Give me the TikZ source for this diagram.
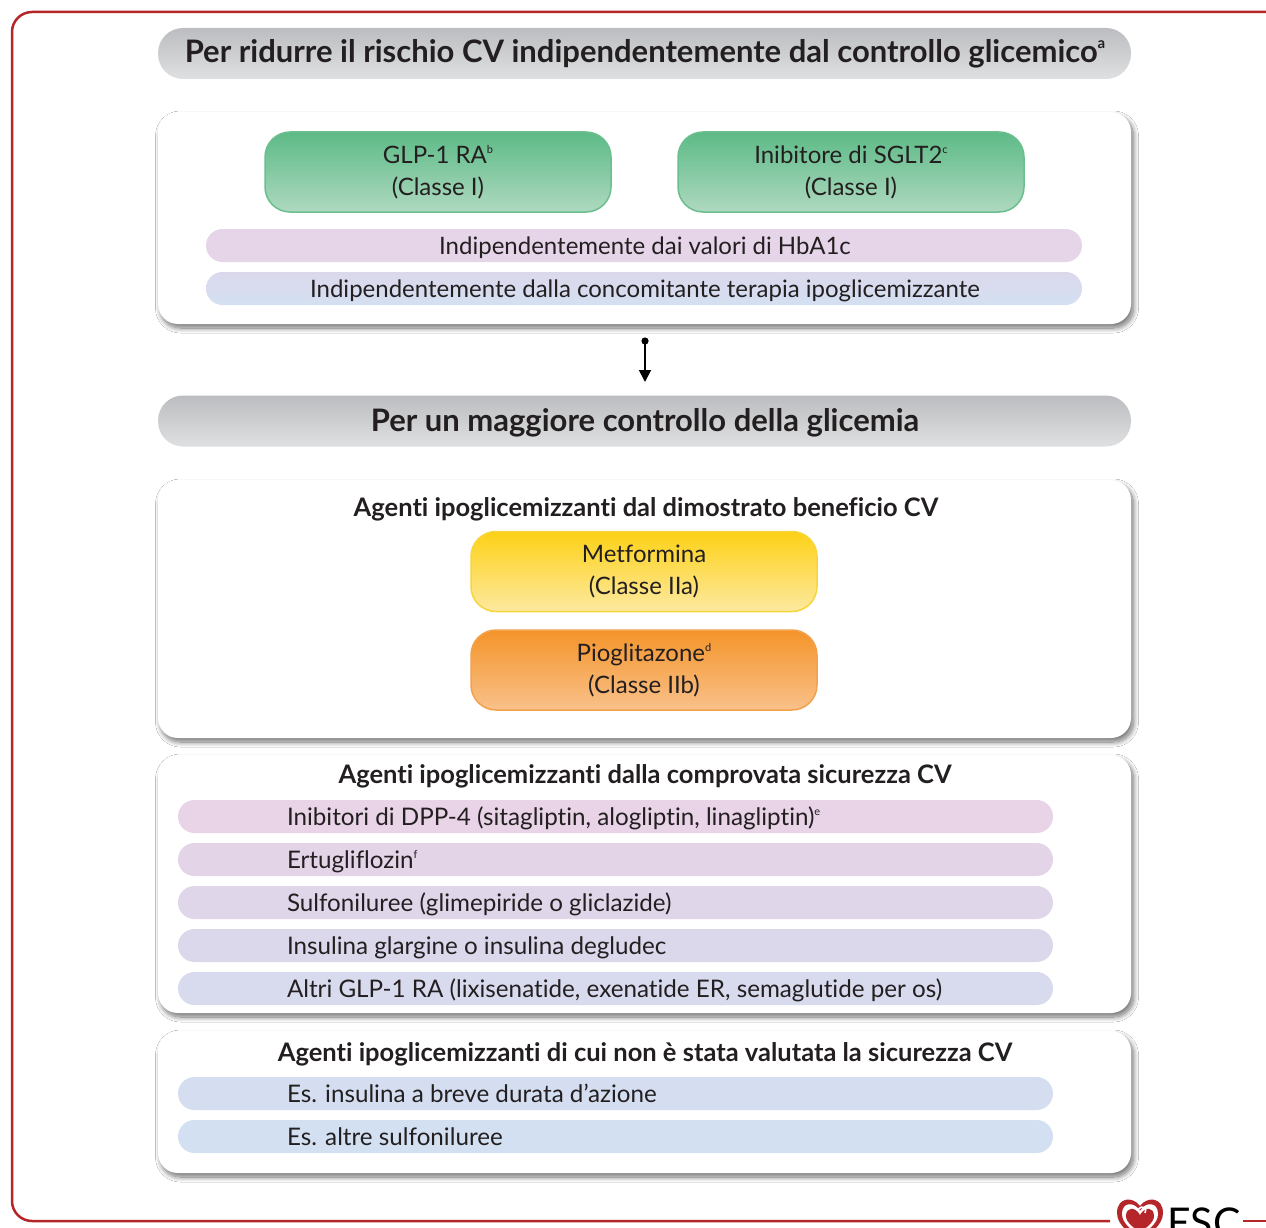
\documentclass[tikz,border=0pt]{standalone}
\usepackage{fontspec}
\setmainfont{Lato}[Ligatures={TeX,NoCommon}]
\usetikzlibrary{shadows.blur,arrows.meta}
\definecolor{ink}{HTML}{231F20}
\definecolor{escred}{HTML}{B5262B}
\definecolor{hdrtop}{HTML}{BCBDC0}
\definecolor{hdrbot}{HTML}{DFE0E1}
\definecolor{greentop}{HTML}{5DBA86}
\definecolor{greenbot}{HTML}{AED9C0}
\definecolor{greenline}{HTML}{6BBF8E}
\definecolor{yeltop}{HTML}{FDD116}
\definecolor{yelbot}{HTML}{FDE9A0}
\definecolor{yelline}{HTML}{F8D53A}
\definecolor{ortop}{HTML}{F4942A}
\definecolor{orbot}{HTML}{F9C18A}
\definecolor{orline}{HTML}{F2A24C}
\definecolor{bandA}{HTML}{E6D5E9}
\definecolor{bandBt}{HTML}{DCD8EC}
\definecolor{bandBb}{HTML}{D3E0F1}
\definecolor{bandC1}{HTML}{E8D3E7}
\definecolor{bandC2}{HTML}{E4D4E8}
\definecolor{bandC3}{HTML}{E0D6EA}
\definecolor{bandC4}{HTML}{DCD8EC}
\definecolor{bandC5}{HTML}{D8DAEE}
\definecolor{bandD1}{HTML}{D4DEF0}
\definecolor{bandD2}{HTML}{D3E0F1}
\newcommand\supb[1]{\raisebox{9.5pt}{\fontsize{11}{11}\selectfont #1}}
\newcommand\suph[1]{\raisebox{14pt}{\fontsize{15}{15}\selectfont #1}}
\begin{document}
\begin{tikzpicture}[x=1pt,y=-1pt,
  every node/.style={text=ink, inner sep=0pt},
  headerbar/.style={rounded corners=25pt, minimum width=973pt, minimum height=51pt,
    top color=hdrtop, bottom color=hdrbot, font=\fontsize{31}{34}\selectfont\bfseries},
  panelbox/.style={rounded corners=20pt, fill=white, minimum width=973pt,
    blur shadow={shadow xshift=2.5pt, shadow yshift=-4pt, shadow blur radius=5pt, shadow blur steps=12, shadow opacity=55}},
  drugbox/.style={rounded corners=25pt, minimum width=346pt, minimum height=80pt, line width=1.5pt,
    align=center, font=\fontsize{24}{32}\selectfont},
  greenbox/.style={drugbox, draw=greenline, top color=greentop, bottom color=greenbot},
  yellowbox/.style={drugbox, draw=yelline, top color=yeltop, bottom color=yelbot},
  orangebox/.style={drugbox, draw=orline, top color=ortop, bottom color=orbot},
  wideband/.style={rounded corners=16.5pt, minimum width=876pt, minimum height=33pt},
  listband/.style={rounded corners=16.5pt, minimum width=875pt, minimum height=33pt},
  bandtext/.style={font=\fontsize{24}{26}\selectfont},
  itemtext/.style={anchor=west, font=\fontsize{24.2}{26}\selectfont},
  paneltitle/.style={font=\fontsize{25.5}{28}\selectfont\bfseries},
]
\useasboundingbox (0,0) rectangle (1266,1228);
\fill[white] (0,0) rectangle (1266,1228);

% frame
\draw[escred, line width=2.5pt, rounded corners=20pt] (1266,12) -- (12,12) -- (12,1221) -- (1110,1221);
\draw[escred, line width=2.5pt] (1243,1221) -- (1266,1221);

% header 1
\node[headerbar] (h1) at (644.5,53.5) {};
\node[font=\fontsize{31}{34}\selectfont\bfseries, anchor=base] (h1t) at (645,63) {Per ridurre il rischio CV indipendentemente dal controllo glicemico\suph{a}};

% panel 1
\node[panelbox, minimum height=212pt] (p1) at (644.5,218) {};
\node[greenbox] (glp) at (438,172) {GLP-1 RA\supb{b}\\(Classe I)};
\node[greenbox] (sglt) at (851,172) {Inibitore di SGLT2\supb{c}\\(Classe I)};
\node[wideband, fill=bandA] (b1) at (644,245.5) {};
\node[wideband, top color=bandBt, bottom color=bandBb] (b2) at (644,288.5) {};
\node[bandtext, anchor=base] (b1t) at (645,254) {Indipendentemente dai valori di HbA1c};
\node[bandtext, anchor=base] (b2t) at (645,297) {Indipendentemente dalla concomitante terapia ipoglicemizzante};

% arrow
\coordinate (arrS) at (645,341);
\coordinate (arrE) at (645,382);
\fill[black] (arrS) circle (3.6pt);
\draw[line width=1.8pt, -{Triangle[length=12pt,width=12pt]}] (arrS) -- (arrE);

% header 2
\node[headerbar] (h2) at (644.5,421) {};
\node[font=\fontsize{31}{34}\selectfont\bfseries, anchor=base] (h2t) at (645,431) {Per un maggiore controllo della glicemia};

% panel 2
\node[panelbox, minimum height=258pt] (p2) at (644.5,609) {};
\node[paneltitle, anchor=base] (t2) at (646,516) {Agenti ipoglicemizzanti dal dimostrato beneficio CV};
\node[yellowbox] (met) at (644,571.5) {Metformina\\(Classe IIa)};
\node[orangebox] (pio) at (644,670) {Pioglitazone\supb{d}\\(Classe IIb)};

% panel 3
\node[panelbox, minimum height=258pt] (p3) at (644.5,884) {};
\node[paneltitle, anchor=base] (t3) at (645,783) {Agenti ipoglicemizzanti dalla comprovata sicurezza CV};
\node[listband, fill=bandC1] (c1) at (615.5,816.5) {};
\node[listband, fill=bandC2] (c2) at (615.5,859.5) {};
\node[listband, fill=bandC3] (c3) at (615.5,902.5) {};
\node[listband, fill=bandC4] (c4) at (615.5,945.5) {};
\node[listband, fill=bandC5] (c5) at (615.5,988.5) {};
\node[itemtext, anchor=base west] (c1t) at ([xshift=109pt,yshift=-8.5pt]c1.west) {Inibitori di DPP-4 (sitagliptin, alogliptin, linagliptin)\supb{e}};
\node[itemtext, anchor=base west] (c2t) at ([xshift=109pt,yshift=-8.5pt]c2.west) {Ertugliflozin\supb{f}};
\node[itemtext, anchor=base west] (c3t) at ([xshift=109pt,yshift=-8.5pt]c3.west) {Sulfoniluree (glimepiride o gliclazide)};
\node[itemtext, anchor=base west] (c4t) at ([xshift=109pt,yshift=-8.5pt]c4.west) {Insulina glargine o insulina degludec};
\node[itemtext, anchor=base west] (c5t) at ([xshift=109pt,yshift=-8.5pt]c5.west) {Altri GLP-1 RA (lixisenatide, exenatide ER, semaglutide per os)};

% panel 4
\node[panelbox, minimum height=142pt] (p4) at (644.5,1102) {};
\node[paneltitle, anchor=base] (t4) at (645,1061) {Agenti ipoglicemizzanti di cui non è stata valutata la sicurezza CV};
\node[listband, fill=bandD1] (d1) at (615.5,1093.5) {};
\node[listband, fill=bandD2] (d2) at (615.5,1136.5) {};
\node[itemtext, anchor=base west] (d1t) at ([xshift=109pt,yshift=-8.5pt]d1.west) {Es. insulina a breve durata d'azione};
\node[itemtext, anchor=base west] (d2t) at ([xshift=109pt,yshift=-8.5pt]d2.west) {Es. altre sulfoniluree};

% ESC logo
\begin{scope}[shift={(1140,1216)}]
  \fill[escred] (0,-10) .. controls (-7,-20) and (-23,-19) .. (-23,-3) .. controls (-23,10) and (-8,18) .. (0,27) .. controls (8,18) and (23,10) .. (23,-3) .. controls (23,-19) and (7,-20) .. (0,-10) -- cycle;
  \fill[white] (0,-5) .. controls (-6,-15) and (-18,-14) .. (-18,-2) .. controls (-18,8) and (-6,15) .. (0,21) .. controls (6,15) and (18,8) .. (18,-2) .. controls (18,-14) and (6,-15) .. (0,-5) -- cycle;
  \fill[escred] (0,-1) .. controls (-5,-10) and (-14,-9) .. (-14,0) .. controls (-14,7) and (-5,12) .. (0,17) .. controls (5,12) and (14,7) .. (14,0) .. controls (14,-9) and (5,-10) .. (0,-1) -- cycle;
  \draw[white, line width=1.6pt] (-2,-6) .. controls (2,-12) and (8,-8) .. (5,-3);
\end{scope}
\node[anchor=base west, font=\fontsize{41}{41}\selectfont, text=black] (esc) at (1167,1237) {ESC};
\end{tikzpicture}
\end{document}
